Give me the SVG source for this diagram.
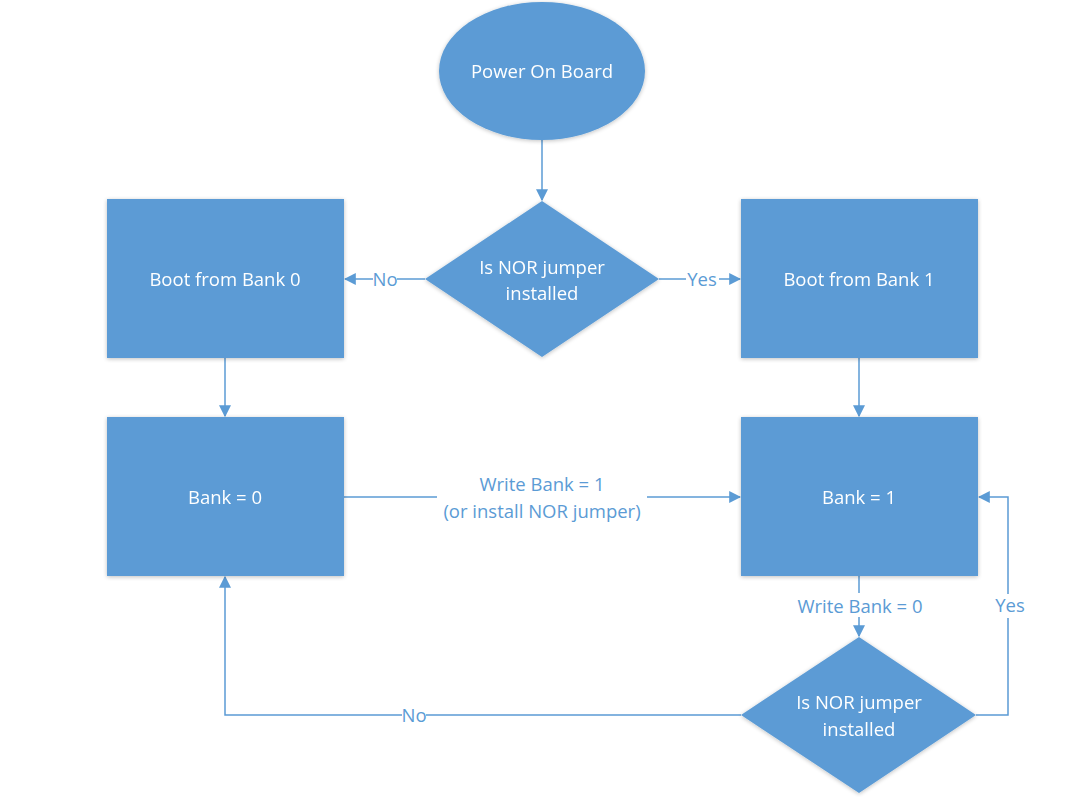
<svg xmlns="http://www.w3.org/2000/svg" width="1082" height="797" viewBox="0 0 1082 797">
<style>
.n{fill:#5B9BD5;}
.t{fill:#FFFFFF;font-family:"Open Sans","Noto Sans",sans-serif;font-size:18.5px;text-anchor:middle;}
.c{stroke:#5B9BD5;stroke-width:1.5;fill:none;}
.l{fill:#5B9BD5;font-family:"Open Sans","Noto Sans",sans-serif;font-size:18.5px;text-anchor:middle;}
.lb{fill:#FFFFFF;}
</style>
<defs>
<marker id="a" viewBox="0 0 10 10" refX="9" refY="5" markerWidth="12" markerHeight="12" markerUnits="userSpaceOnUse" orient="auto">
<path d="M0,0 L10,5 L0,10 z" fill="#5B9BD5"/>
</marker>
<filter id="s" x="-10%" y="-10%" width="120%" height="120%">
<feGaussianBlur in="SourceAlpha" stdDeviation="2"/>
<feOffset dx="0" dy="1" result="b"/>
<feComponentTransfer><feFuncA type="linear" slope="0.25"/></feComponentTransfer>
<feMerge><feMergeNode/><feMergeNode in="SourceGraphic"/></feMerge>
</filter>
</defs>
<rect width="1082" height="797" fill="#FFFFFF"/>
<g id="connectors">
<path class="c" d="M542,140 V200" marker-end="url(#a)"/>
<path class="c" d="M425,279 H345" marker-end="url(#a)"/>
<path class="c" d="M659,279 H740" marker-end="url(#a)"/>
<path class="c" d="M225,358 V416" marker-end="url(#a)"/>
<path class="c" d="M859,358 V416" marker-end="url(#a)"/>
<path class="c" d="M344,497 H740" marker-end="url(#a)"/>
<path class="c" d="M859,576 V636" marker-end="url(#a)"/>
<path class="c" d="M976,715 H1008 V497 H979" marker-end="url(#a)"/>
<path class="c" d="M741,715 H225 V577" marker-end="url(#a)"/>
<rect class="lb" x="373" y="269" width="24" height="20"/>
<text class="l" x="385" y="286">No</text>
<rect class="lb" x="686" y="269" width="33" height="20"/>
<text class="l" x="702" y="286">Yes</text>
<rect class="lb" x="437" y="470" width="210" height="56"/>
<text class="l" x="542" y="491">Write Bank = 1</text>
<text class="l" x="542" y="518">(or install NOR jumper)</text>
<rect class="lb" x="790" y="593" width="140" height="24"/>
<text class="l" x="860" y="613">Write Bank = 0</text>
<rect class="lb" x="994" y="594" width="32" height="24"/>
<text class="l" x="1010" y="612">Yes</text>
<rect class="lb" x="402" y="705" width="24" height="20"/>
<text class="l" x="414" y="722">No</text>
</g>
<g id="power" filter="url(#s)">
<ellipse class="n" cx="542" cy="71" rx="103" ry="69"/>
<text class="t" x="542" y="78">Power On Board</text>
</g>
<g id="decision1" filter="url(#s)">
<polygon class="n" points="542,201 659,279 542,357 425,279"/>
<text class="t" x="542" y="274">Is NOR jumper</text>
<text class="t" x="542" y="300">installed</text>
</g>
<g id="boot0" filter="url(#s)">
<rect class="n" x="107" y="199" width="237" height="159"/>
<text class="t" x="225" y="286">Boot from Bank 0</text>
</g>
<g id="boot1" filter="url(#s)">
<rect class="n" x="741" y="199" width="237" height="159"/>
<text class="t" x="859" y="286">Boot from Bank 1</text>
</g>
<g id="bank0" filter="url(#s)">
<rect class="n" x="107" y="417" width="237" height="159"/>
<text class="t" x="225" y="504">Bank = 0</text>
</g>
<g id="bank1" filter="url(#s)">
<rect class="n" x="741" y="417" width="237" height="159"/>
<text class="t" x="859" y="504">Bank = 1</text>
</g>
<g id="decision2" filter="url(#s)">
<polygon class="n" points="859,637 976,715 859,793 741,715"/>
<text class="t" x="859" y="709">Is NOR jumper</text>
<text class="t" x="859" y="736">installed</text>
</g>
</svg>
